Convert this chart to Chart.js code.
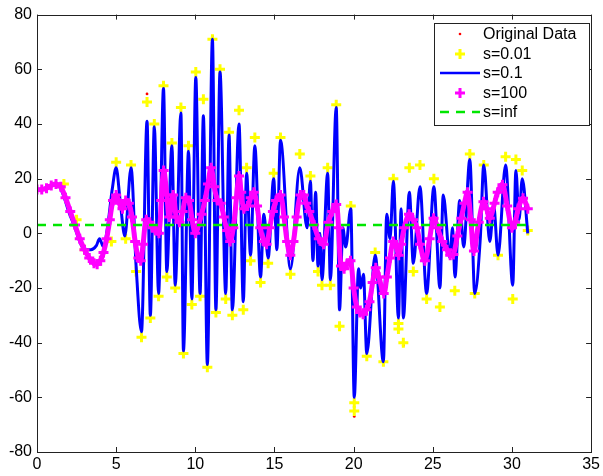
<!DOCTYPE html>
<html><head><meta charset="utf-8">
<script src="https://cdn.jsdelivr.net/npm/chart.js@4"></script>
<style>html,body{margin:0;padding:0;background:#fff;}#wrap{width:603px;height:476px;}</style>
</head><body><div id="wrap"><canvas id="c" width="603" height="476"></canvas></div>
<script>
const xTicks = [0, 5, 10, 15, 20, 25, 30, 35];
const yTicks = [-80, -60, -40, -20, 0, 20, 40, 60, 80];
const seriesLabels = ['Original Data', 's=0.01', 's=0.1', 's=100', 's=inf'];

const originalData = [[1.3,17.5],[6.95,51],[11.08,72],[20.04,-67],[23.14,-41]];

const s001 = [[1.7,18],[2.5,5],[3.0,-6],[4.7,-3],[5.0,26],[5.6,-2],[5.94,25],[6.26,-14],[6.6,-38],[6.95,48],[7.16,-31],[7.41,40],[7.68,-23],[7.99,54],[8.2,-16],[8.52,33],[8.73,-20],[9.09,46],[9.25,-44],[9.57,32],[9.78,-26],[10.03,59],[10.3,-23],[10.51,49],[10.76,-49],[11.08,71],[11.3,-29],[11.56,60],[11.92,-24],[12.13,37],[12.34,-30],[12.76,45],[13.03,-28],[13.24,24],[13.49,-10],[13.76,35],[14.12,-18],[14.6,-11],[14.95,22],[15.38,35],[16.01,-15],[16.6,29],[17.27,21],[17.75,-14],[18.0,-19],[18.36,24],[18.53,-19],[18.9,47],[19.11,-34],[19.82,10],[20.04,-62],[20.04,-65],[20.83,-45],[21.36,-7],[21.88,-47],[22.51,20],[22.83,-33],[22.83,-35],[23.14,-40],[23.52,24],[23.77,-14],[24.19,25],[24.61,-24],[25.07,20],[25.45,-27],[26.39,-21],[27.34,29],[27.65,-22],[28.22,25],[29.12,-8],[29.6,28],[30.05,-24],[30.25,27],[30.65,23],[31.0,1]];

const s01 = [[0,16],[0.5,16.5],[1.0,17.5],[1.3,17.6],[1.6,15],[2.0,8],[2.4,2],[2.7,-3],[3.0,-6],[3.4,-6],[3.75,-4.5],[3.95,-2],[4.2,-5],[4.45,2],[4.75,16],[5.0,24],[5.25,12],[5.55,-1],[5.94,24],[6.26,-12],[6.6,-36],[6.95,41],[7.16,-30],[7.41,39],[7.68,-22],[7.99,53],[8.2,-14],[8.52,32],[8.73,-19],[9.09,44],[9.25,-43],[9.57,30],[9.78,-24],[10.03,57],[10.3,-22],[10.51,43],[10.76,-48],[11.08,71],[11.3,-28],[11.56,59],[11.92,-22],[12.13,36],[12.34,-28],[12.76,40],[13.03,-25],[13.24,22],[13.49,-8],[13.76,32],[14.12,-16],[14.33,7],[14.6,-9],[14.95,20],[15.15,-6],[15.38,34],[16.01,-13],[16.6,24],[17.06,2],[17.27,19],[17.43,-10],[17.6,15],[17.75,-12],[17.87,0],[18.0,-17],[18.36,22],[18.53,-17],[18.9,46],[19.11,-28],[19.32,2],[19.5,-5],[19.82,9],[20.04,-60],[20.31,-13],[20.45,-20],[20.62,-15],[20.83,-44],[21.36,-8],[21.88,-47],[22.09,7],[22.3,-2],[22.51,19],[22.83,-31],[23.0,9],[23.14,-31],[23.52,15],[23.77,-11],[24.19,17],[24.61,-22],[25.07,17],[25.45,-20],[25.66,14],[26.08,-9],[26.25,2],[26.4,-16],[26.7,12],[26.95,-5],[27.34,27],[27.65,-22],[28.0,-2],[28.22,25],[28.6,-3],[28.85,10],[29.12,-8],[29.6,25],[30.05,-19],[30.25,23],[30.45,5],[30.65,20],[31.0,0]];

const s100 = [[0,16],[0.3,16],[0.6,16.5],[0.9,17.5],[1.2,18],[1.5,17],[1.8,13],[2.1,8],[2.4,3],[2.7,-2],[3.0,-6],[3.3,-9],[3.6,-11],[3.8,-11.3],[4.0,-10],[4.2,-7],[4.4,-2],[4.6,5],[4.8,12],[5.0,14],[5.2,11],[5.4,9],[5.6,12],[5.8,11],[6.0,6],[6.2,-3],[6.4,-9],[6.55,-10],[6.7,-4],[6.9,5],[7.1,4],[7.3,2],[7.5,1],[7.7,0],[7.85,12],[8.0,23],[8.2,14],[8.35,6],[8.6,14],[8.8,6],[9.0,4],[9.2,8],[9.4,13],[9.6,12],[9.8,5],[10.0,0],[10.2,3],[10.4,7],[10.6,12],[10.8,18],[11.0,24],[11.2,17],[11.4,12],[11.6,11],[11.8,6],[12.0,1],[12.2,-3],[12.4,2],[12.6,13],[12.76,21],[12.9,15],[13.07,9],[13.3,10],[13.5,13],[13.7,15],[13.9,10],[14.1,2],[14.33,-3],[14.5,-4],[14.7,2],[14.9,8],[15.1,12],[15.38,14],[15.6,6],[15.8,-3],[16.0,-8],[16.2,-3],[16.4,6],[16.64,14],[16.85,14],[17.0,11],[17.2,8],[17.5,3],[17.8,-2],[18.1,-4],[18.4,4],[18.65,8],[18.9,10.5],[19.05,2],[19.2,-12],[19.4,-13],[19.6,-11],[19.8,-10],[20.0,-20],[20.2,-27],[20.4,-29],[20.6,-29.6],[20.8,-28],[21.0,-25],[21.2,-18],[21.4,-12.6],[21.6,-16],[21.9,-22],[22.1,-16],[22.3,-9],[22.5,-3],[22.7,-5],[22.85,-8],[23.0,-4],[23.2,2],[23.5,7],[23.75,5],[24.0,2],[24.2,-4],[24.5,-10],[24.8,-2],[25.05,5.5],[25.3,2],[25.6,-3],[25.9,-6],[26.1,-8],[26.3,-7.8],[26.55,-1],[26.8,5.5],[27.0,11],[27.2,15],[27.4,5],[27.6,-6.5],[27.9,4],[28.2,11.5],[28.4,9],[28.6,5.5],[28.9,11],[29.1,15],[29.4,17.8],[29.7,10],[30.0,2],[30.2,4],[30.4,9],[30.7,12.8],[31.0,9]];

const sInf = [[0,3],[31,3]];

const toXY = a => a.map(p => ({x: p[0], y: p[1]}));
const FONT = "'Liberation Sans', Arial, Helvetica, sans-serif";

const bgPlugin = {
  id: 'bg',
  beforeDraw(chart) {
    const c = chart.ctx; c.save(); c.fillStyle = '#fff'; c.fillRect(0, 0, chart.width, chart.height); c.restore();
  }
};

const framePlugin = {
  id: 'frame',
  afterDraw(chart) {
    const c = chart.ctx, a = chart.chartArea, xs = chart.scales.x, ys = chart.scales.y;
    c.save();
    c.strokeStyle = '#222'; c.lineWidth = 1;
    c.strokeRect(Math.round(a.left) + 0.5, Math.round(a.top) + 0.5, Math.round(a.right - a.left), Math.round(a.bottom - a.top));
    c.beginPath();
    const L = 5;
    xTicks.forEach(v => {
      const px = Math.round(xs.getPixelForValue(v)) + 0.5;
      c.moveTo(px, a.bottom); c.lineTo(px, a.bottom - L);
      c.moveTo(px, a.top); c.lineTo(px, a.top + L);
    });
    yTicks.forEach(v => {
      const py = Math.round(ys.getPixelForValue(v)) + 0.5;
      c.moveTo(a.left, py); c.lineTo(a.left + L, py);
      c.moveTo(a.right, py); c.lineTo(a.right - L, py);
    });
    c.stroke();
    // legend
    const bx = 434, by = 23, bw = 155, bh = 102;
    c.fillStyle = '#fff'; c.fillRect(bx, by, bw, bh);
    c.strokeStyle = '#222'; c.strokeRect(bx + 0.5, by + 0.5, bw, bh);
    const ds = chart.data.datasets;
    const rowY = [34, 54, 73, 93, 112];
    const sx0 = 440, sx1 = 480, mx = 460;
    c.font = '16px ' + FONT; c.fillStyle = '#000'; c.textBaseline = 'middle'; c.textAlign = 'left';
    ds.forEach((d, i) => {
      const y = rowY[i];
      c.save();
      if (i === 0) {
        c.fillStyle = '#ff0000'; c.beginPath(); c.arc(mx, y, 1.3, 0, Math.PI * 2); c.fill();
      } else if (i === 1) {
        c.strokeStyle = '#ffff00'; c.lineWidth = 3;
        c.beginPath(); c.moveTo(mx - 5, y); c.lineTo(mx + 5, y); c.moveTo(mx, y - 5); c.lineTo(mx, y + 5); c.stroke();
      } else if (i === 2) {
        c.strokeStyle = '#0000ff'; c.lineWidth = 2.5; c.beginPath(); c.moveTo(sx0, y); c.lineTo(sx1, y); c.stroke();
      } else if (i === 3) {
        c.strokeStyle = '#ff00ff'; c.lineWidth = 3; c.beginPath();
        c.moveTo(mx - 5, y); c.lineTo(mx + 5, y); c.moveTo(mx, y - 5); c.lineTo(mx, y + 5); c.stroke();
      } else {
        c.strokeStyle = '#00e600'; c.lineWidth = 2.5; c.setLineDash([9, 7]); c.beginPath(); c.moveTo(sx0, y); c.lineTo(sx1, y); c.stroke();
      }
      c.restore();
      c.fillText(d.label, 483, y + 1);
    });
    c.restore();
  }
};

new Chart(document.getElementById('c'), {
  type: 'line',
  data: {
    datasets: [
      {label: seriesLabels[0], data: toXY(originalData), showLine: false, pointRadius: 1.4, pointBackgroundColor: '#ff0000', pointBorderColor: '#ff0000', pointBorderWidth: 0, order: 4},
      {label: seriesLabels[1], data: toXY(s001), showLine: false, pointStyle: 'cross', pointRadius: 5, pointBorderColor: '#ffff00', pointBackgroundColor: '#ffff00', pointBorderWidth: 3, order: 3},
      {label: seriesLabels[2], data: toXY(s01), borderColor: '#0000ff', borderWidth: 3, pointRadius: 0, cubicInterpolationMode: 'monotone', fill: false, order: 2},
      {label: seriesLabels[3], data: toXY(s100), borderColor: '#ff00ff', borderWidth: 5, pointStyle: 'cross', pointRadius: 5, pointBorderColor: '#ff00ff', pointBorderWidth: 3, tension: 0.4, fill: false, order: 1},
      {label: seriesLabels[4], data: toXY(sInf), borderColor: '#00e600', borderWidth: 2.5, borderDash: [9, 7], pointRadius: 0, fill: false, order: 0}
    ]
  },
  options: {
    responsive: false,
    animation: false,
    events: [],
    devicePixelRatio: 1,
    layout: {padding: {top: 12, right: 9, left: 0, bottom: 0}},
    plugins: {legend: {display: false}, tooltip: {enabled: false}},
    scales: {
      x: {
        type: 'linear', min: 0, max: 35,
        afterBuildTicks(s) { s.ticks = xTicks.map(v => ({value: v})); },
        afterFit(s) { s.height = 24; },
        ticks: {font: {family: FONT, size: 16}, color: '#000', padding: 3, maxRotation: 0, autoSkip: false},
        grid: {display: false, drawTicks: false},
        border: {display: false}
      },
      y: {
        type: 'linear', min: -80, max: 80,
        afterBuildTicks(s) { s.ticks = yTicks.map(v => ({value: v})); },
        afterFit(s) { s.width = 37; },
        ticks: {font: {family: FONT, size: 16}, color: '#000', padding: 5, autoSkip: false},
        grid: {display: false, drawTicks: false},
        border: {display: false}
      }
    }
  },
  plugins: [bgPlugin, framePlugin]
});
</script>
</body></html>
